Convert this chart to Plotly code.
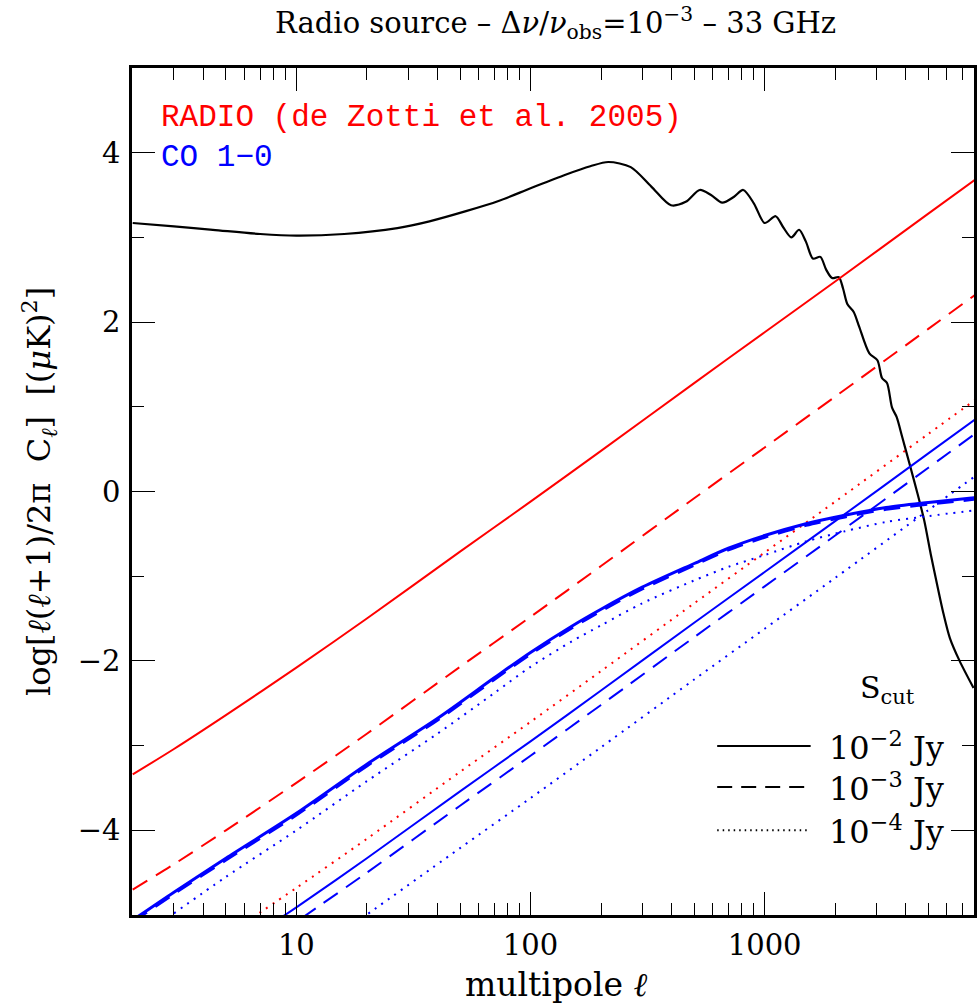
import plotly.graph_objects as go

# ---------------- data ----------------
ell_cmb = [2, 3, 4.4, 7, 10, 16, 27, 37, 53, 73, 100, 141, 180, 215, 268, 328, 398, 460,
           528, 590, 659, 740, 810, 900, 1000, 1114, 1200, 1300, 1403, 1500, 1607, 1729,
           1830, 1940, 2074, 2160, 2257, 2400, 2530, 2800, 3030, 3170, 3330, 3500, 3660,
           3870, 4200, 4500, 4800, 5120, 5490, 5800, 6180, 6800, 7800]
cmb = [3.17, 3.13, 3.09, 3.04, 3.02, 3.04, 3.11, 3.19, 3.31, 3.43, 3.58, 3.74, 3.84, 3.89,
       3.83, 3.60, 3.38, 3.42, 3.56, 3.50, 3.41, 3.48, 3.56, 3.40, 3.17, 3.25, 3.12, 3.00,
       3.09, 2.95, 2.75, 2.77, 2.62, 2.52, 2.53, 2.40, 2.21, 2.12, 1.95, 1.63, 1.55, 1.34,
       1.28, 0.99, 0.88, 0.64, 0.28, -0.03, -0.34, -0.74, -1.14, -1.44, -1.73, -2.00, -2.32]

ell_radio = [2, 3, 5, 10, 20, 50, 100, 200, 500, 1000, 2000, 5000, 8000]
radio_s2 = [-3.34, -3.04, -2.64, -2.08, -1.50, -0.71, -0.12, 0.48, 1.28, 1.88, 2.48, 3.28, 3.69]
radio_s3 = [-4.70, -4.40, -4.00, -3.44, -2.86, -2.07, -1.48, -0.88, -0.08, 0.52, 1.12, 1.92, 2.33]
ell_radio4 = [6.5, 10, 20, 50, 100, 200, 500, 1000, 2000, 5000, 8000]
radio_s4 = [-5.03, -4.68, -4.10, -3.31, -2.72, -2.12, -1.32, -0.72, -0.12, 0.68, 1.09]

# CO 1-0 : clustered (curved) part
ell_co = [2, 3, 5, 10, 20, 40, 70, 100, 150, 200, 300, 500, 700, 1000, 1500, 2200, 3300,
          5000, 8000]
co_clu_s2 = [-5.06, -4.73, -4.33, -3.80, -3.22, -2.68, -2.20, -1.90, -1.59, -1.39, -1.13,
             -0.85, -0.67, -0.52, -0.38, -0.28, -0.19, -0.13, -0.07]
co_clu_s3 = [-5.08, -4.75, -4.35, -3.82, -3.24, -2.70, -2.22, -1.92, -1.61, -1.41, -1.15,
             -0.87, -0.69, -0.54, -0.40, -0.30, -0.21, -0.15, -0.09]
ell_co4 = [3, 5, 10, 20, 40, 70, 100, 150, 200, 300, 500, 700, 1000, 1500, 2200, 3300,
           5000, 8000]
co_clu_s4 = [-4.98, -4.55, -4.00, -3.42, -2.86, -2.38, -2.07, -1.77, -1.58, -1.32, -1.05,
             -0.89, -0.75, -0.59, -0.47, -0.36, -0.29, -0.22]

# CO 1-0 : Poisson part
ell_cop2 = [8.5, 10, 20, 50, 100, 200, 500, 1000, 2000, 5000, 8000]
co_poi_s2 = [-5.04, -4.91, -4.33, -3.54, -2.95, -2.35, -1.55, -0.95, -0.35, 0.45, 0.86]
ell_cop3 = [10.5, 20, 50, 100, 200, 500, 1000, 2000, 5000, 8000]
co_poi_s3 = [-5.04, -4.50, -3.71, -3.12, -2.52, -1.72, -1.12, -0.52, 0.28, 0.69]
ell_cop4 = [19, 50, 100, 200, 500, 1000, 2000, 5000, 8000]
co_poi_s4 = [-5.04, -4.21, -3.62, -3.02, -2.22, -1.62, -1.02, -0.22, 0.19]

x_major = [10, 100, 1000]
x_minor = [2, 3, 4, 5, 6, 7, 8, 9, 20, 30, 40, 50, 60, 70, 80, 90,
           200, 300, 400, 500, 600, 700, 800, 900, 2000, 3000, 4000, 5000, 6000, 7000]
y_major = [-4, -2, 0, 2, 4]
y_minor = [-5, -3, -1, 1, 3, 5]

legend_labels = ["10<sup>−2</sup> Jy", "10<sup>−3</sup> Jy", "10<sup>−4</sup> Jy"]

# ---------------- styles ----------------
RED = "#ff0000"
BLUE = "#0000ff"
DASH = "17px,10px"
DOT = "2px,6px"
SERIF = "DejaVu Serif"
MONO = "Liberation Mono"

fig = go.Figure()

def add(x, y, color, width, dash="solid"):
    fig.add_trace(go.Scatter(x=x, y=y, mode="lines", showlegend=False, hoverinfo="skip",
                             line=dict(color=color, width=width, dash=dash,
                                       shape="spline", smoothing=0.8)))

add(ell_cmb, cmb, "black", 2.2)
add(ell_radio, radio_s2, RED, 2)
add(ell_radio, radio_s3, RED, 2, DASH)
add(ell_radio4, radio_s4, RED, 2, DOT)
add(ell_co, co_clu_s2, BLUE, 3)
add(ell_co, co_clu_s3, BLUE, 3, DASH)
add(ell_co4, co_clu_s4, BLUE, 2, DOT)
add(ell_cop2, co_poi_s2, BLUE, 2)
add(ell_cop3, co_poi_s3, BLUE, 2, DASH)
add(ell_cop4, co_poi_s4, BLUE, 2, DOT)

# ---------------- axes ----------------
axis_common = dict(showgrid=False, zeroline=False, showline=True, linecolor="black",
                   linewidth=2.5, mirror="allticks", ticks="inside", ticklen=23,
                   tickwidth=1.3, tickcolor="black",
                   tickfont=dict(family=SERIF, size=29, color="black"))

fig.update_xaxes(type="log", range=[0.298, 3.894], tickmode="array", tickvals=x_major,
                 ticktext=[str(v) for v in x_major], ticklabelstandoff=2,
                 minor=dict(tickmode="array", tickvals=x_minor, ticks="inside",
                            ticklen=12, tickwidth=1.3, tickcolor="black", showgrid=False),
                 **axis_common)
fig.update_yaxes(range=[-5, 5], tickmode="array", tickvals=y_major,
                 ticktext=[str(v).replace("-", "−") for v in y_major], ticklabelstandoff=3,
                 minor=dict(tickmode="array", tickvals=y_minor, ticks="inside",
                            ticklen=12, tickwidth=1.3, tickcolor="black", showgrid=False),
                 **axis_common)

# ---------------- texts ----------------
ann = []
ann.append(dict(text="Radio source – Δ<i>ν</i>/<i>ν</i><sub>obs</sub>=10<sup>−3</sup> – 33 GHz",
                x=0.503, y=1.053, xref="paper", yref="paper", showarrow=False,
                font=dict(family=SERIF, size=29, color="black"), xanchor="center", yanchor="middle"))
ann.append(dict(text="multipole <i>ℓ</i>", x=0.503, y=-0.0826, xref="paper", yref="paper",
                showarrow=False, font=dict(family=SERIF, size=33, color="black"),
                xanchor="center", yanchor="middle"))
ann.append(dict(text="log[<i>ℓ</i>(<i>ℓ</i>+1)/2π  C<sub><i>ℓ</i></sub>]  [(<i>μ</i>K)<sup>2</sup>]",
                x=-0.111, y=0.5, xref="paper", yref="paper", textangle=-90,
                showarrow=False, font=dict(family=SERIF, size=32, color="black"),
                xanchor="center", yanchor="middle"))
ann.append(dict(text="RADIO (de Zotti et al. 2005)", x=0.032, y=0.942, xref="paper", yref="paper",
                showarrow=False, font=dict(family=MONO, size=31, color=RED),
                xanchor="left", yanchor="middle"))
ann.append(dict(text="CO 1−0", x=0.032, y=0.894, xref="paper", yref="paper",
                showarrow=False, font=dict(family=MONO, size=31, color=BLUE),
                xanchor="left", yanchor="middle"))
ann.append(dict(text="S<sub>cut</sub>", x=0.897, y=0.266, xref="paper", yref="paper",
                showarrow=False, font=dict(family=SERIF, size=30, color="black"),
                xanchor="center", yanchor="middle"))

leg_y = [0.1995, 0.151, 0.100]
leg_dash = ["solid", "15px,9px", "1.5px,4px"]
shapes = []
for lab, yy, dd in zip(legend_labels, leg_y, leg_dash):
    shapes.append(dict(type="line", xref="paper", yref="paper", x0=0.695, x1=0.806,
                       y0=yy, y1=yy, line=dict(color="black", width=2, dash=dd)))
    ann.append(dict(text=lab, x=0.826, y=yy, xref="paper", yref="paper", showarrow=False,
                    font=dict(family=SERIF, size=32, color="black"),
                    xanchor="left", yanchor="middle"))

fig.update_layout(width=977, height=1003, margin=dict(l=132, r=0, t=68, b=88),
                  paper_bgcolor="white", plot_bgcolor="white",
                  annotations=ann, shapes=shapes, showlegend=False)

fig.write_html("out.html")
